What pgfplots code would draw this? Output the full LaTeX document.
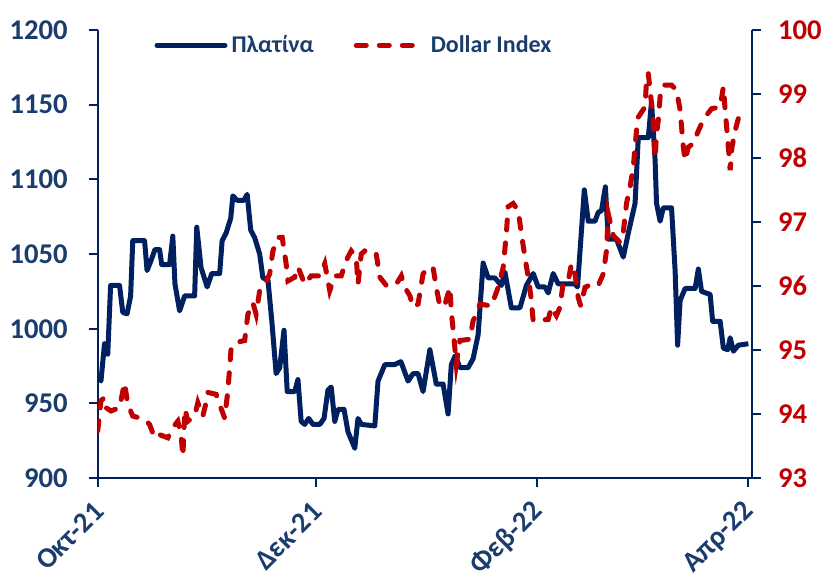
\documentclass[border=0pt]{standalone}
\usepackage{pgfplots}
\pgfplotsset{compat=1.18}
\usepackage{pgfplotstable}
\usepackage{fontspec}
\setmainfont{Carlito}
\definecolor{navy}{HTML}{002060}
\definecolor{navytxt}{HTML}{1A3D6D}
\definecolor{dred}{HTML}{C00000}

% platinum, days since 1 Oct 2021
\pgfplotstableread{
d v
0 970
0.9 965
1.9 990
2.8 983
3.6 1029
6.1 1029
7.0 1011
8.2 1010
9.2 1022
9.8 1059
13.1 1059
13.8 1039
14.8 1045
16.0 1053
17.3 1053
17.9 1043
20.1 1043
21.0 1062
21.6 1030
22.9 1012
24.3 1022
27.1 1022
27.7 1068
28.9 1041
30.6 1028
31.9 1037
34.1 1037
34.8 1059
35.9 1064
37.2 1074
37.8 1089
39.0 1086
40.9 1086
41.8 1090
42.8 1066
43.9 1061
45.3 1050
46.2 1034
47.6 1033
48.7 1005
49.9 970
50.9 974
52.1 999
53.0 958
55.1 958
56.0 966
56.9 938
57.9 936
59.0 940
60.2 936
62.1 936
63.3 940
64.4 959
65.3 961
66.3 938
67.2 946
68.9 946
70.0 931
71.9 920
72.8 940
73.7 936
77.5 935
78.4 965
80.3 976
83.0 976
84.8 978
86.8 965
88.2 970
89.6 970
91.0 958
92.9 986
94.7 963
96.6 963
98.0 943
98.9 976
100.0 982
101.3 974
103.6 974
105.0 980
106.4 996
107.8 1044
109.2 1034
111.1 1034
112.9 1029
113.9 1038
115.7 1014
118.1 1014
119.9 1029
121.8 1037
123.2 1028
125.1 1028
126.0 1024
127.4 1037
128.8 1030
133.5 1030
134.2 1028
136.1 1093
137.2 1072
139.1 1072
140.0 1078
140.9 1079
142.0 1095
142.8 1060
145.1 1060
147.0 1048
148.4 1064
150.3 1084
151.2 1128
154.0 1128
154.9 1152
155.9 1113
156.3 1084
157.3 1072
158.2 1081
160.5 1081
161.5 1039
162.2 989
162.9 1019
164.3 1027
167.1 1027
168.0 1040
168.9 1025
171.3 1023
172.0 1005
174.1 1005
175.0 987
176.2 986
176.9 994
177.8 985
179.2 989
182.0 990
}\platina

% dollar index
\pgfplotstableread{
d v
0 93.74
0.9 94.21
1.9 94.26
2.3 94.10
3.7 94.05
6.1 94.10
7.5 94.49
8.4 94.15
9.8 93.97
13.1 93.92
14.5 93.84
15.9 93.63
17.3 93.68
19.6 93.63
21.0 93.79
22.4 93.89
23.3 93.68
23.8 93.34
24.4 94.08
25.2 93.89
27.1 93.97
28.0 94.18
29.4 93.97
30.3 94.18
30.8 94.34
33.1 94.31
34.1 94.15
35.5 93.94
36.4 94.36
37.3 95.02
38.7 95.12
41.1 95.15
42.0 95.56
43.4 95.74
44.3 95.56
45.3 95.93
46.7 96.03
48.1 96.19
49.0 96.55
50.4 96.76
51.6 96.76
52.7 96.35
53.2 96.08
55.1 96.14
56.0 96.30
57.9 96.03
59.7 96.16
62.1 96.16
63.5 96.35
64.9 95.93
66.3 96.16
68.1 96.16
69.5 96.40
70.9 96.55
72.3 96.45
72.8 96.03
73.7 96.50
74.7 96.55
77.0 96.55
77.9 96.50
78.9 96.14
80.7 96.01
83.5 96.03
84.9 96.16
85.9 95.98
87.3 95.85
88.2 95.67
89.6 95.72
91.0 96.19
92.4 96.29
93.8 96.29
94.7 95.98
95.7 95.69
97.0 95.69
98.5 95.98
98.9 95.61
99.7 95.15
100.3 94.78
101.3 95.15
104.1 95.17
105.0 95.46
105.9 95.56
106.9 95.72
110.1 95.69
112.0 95.98
113.4 96.29
114.3 96.82
114.8 97.24
116.2 97.29
117.6 97.18
118.5 96.82
119.5 96.45
120.4 96.14
121.2 95.82
121.8 95.46
126.0 95.48
126.9 95.67
128.3 95.54
129.3 95.67
130.2 96.06
131.6 96.08
132.5 96.35
133.5 96.19
134.4 95.82
135.1 95.69
136.3 95.98
138.1 96.03
140.0 96.01
141.4 96.19
142.3 96.55
142.8 97.13
144.2 96.79
146.1 96.68
147.0 96.84
147.9 97.29
148.9 97.55
149.8 97.86
150.7 98.43
151.2 98.64
153.1 98.80
153.5 99.22
154.0 99.32
154.9 98.85
155.4 98.54
155.9 97.99
156.3 98.38
156.8 98.59
157.3 98.96
158.2 99.14
160.5 99.14
161.9 99.06
162.9 98.75
163.8 98.17
164.3 97.96
165.2 98.17
166.6 98.23
167.5 98.36
168.9 98.54
170.3 98.67
171.7 98.77
174.1 98.80
175.0 99.11
175.5 98.75
176.4 98.17
176.9 97.81
177.4 98.17
178.3 98.43
179.2 98.62
180.6 98.64
182.0 98.59
}\dollar

\begin{document}
\begin{tikzpicture}
\pgfplotsset{
  base/.style={
    scale only axis, width=327pt, height=224pt,
    xmin=0, xmax=183,
    axis line style={navy, line width=1pt},
    tick style={navy, line width=1pt},
    tick align=outside, major tick length=4.5pt,
    /pgf/number format/assume math mode=true,
    /pgf/number format/1000 sep={},
    yticklabel style={font=\bfseries\fontsize{14.3}{16}\selectfont},
  }
}
\begin{axis}[base,
  axis y line*=left, axis x line*=bottom,
  ymin=900, ymax=1200, ytick={900,950,...,1200},
  yticklabel style={text=navytxt, xshift=-7pt},
  xtick={0,61,123,182},
  xticklabels={Οκτ-21,Δεκ-21,Φεβ-22,Απρ-22},
  xticklabel style={font=\bfseries\fontsize{14.3}{16}\selectfont, text=navytxt,
    xshift=3pt, yshift=-7.5pt, rotate=45, anchor=east},
]
\addplot[navy, line width=2.5pt, line join=round] table[x=d, y=v] {\platina};
\coordinate (sw) at (rel axis cs:0,0);
\coordinate (ne) at (rel axis cs:1,1);
\end{axis}
\begin{axis}[base,
  axis y line*=right, axis x line=none,
  ymin=93, ymax=100, ytick={93,...,100},
  yticklabel style={text=dred, xshift=5pt},
  legend columns=2,
  legend style={draw=none, fill=none, anchor=west, at={(0.077,0.966)},
    font=\bfseries\fontsize{12}{14}\selectfont, text=navytxt,
    /tikz/every even column/.append style={column sep=18pt}},
  legend image code/.code={\draw[#1] (0pt,0pt) -- (34pt,0pt);},
]
\addlegendimage{navy, line width=2.5pt, line cap=round}
\addlegendentry{Πλατίνα}
\addplot[dred, line width=2.5pt, line cap=round, dash pattern=on 5pt off 6.5pt] table[x=d, y=v] {\dollar};
\addlegendentry{Dollar Index}
\end{axis}
\pgfresetboundingbox
\path ([xshift=-48.85pt, yshift=-49.5pt]sw) rectangle ([xshift=38.5pt, yshift=15pt]ne);
\end{tikzpicture}
\end{document}
